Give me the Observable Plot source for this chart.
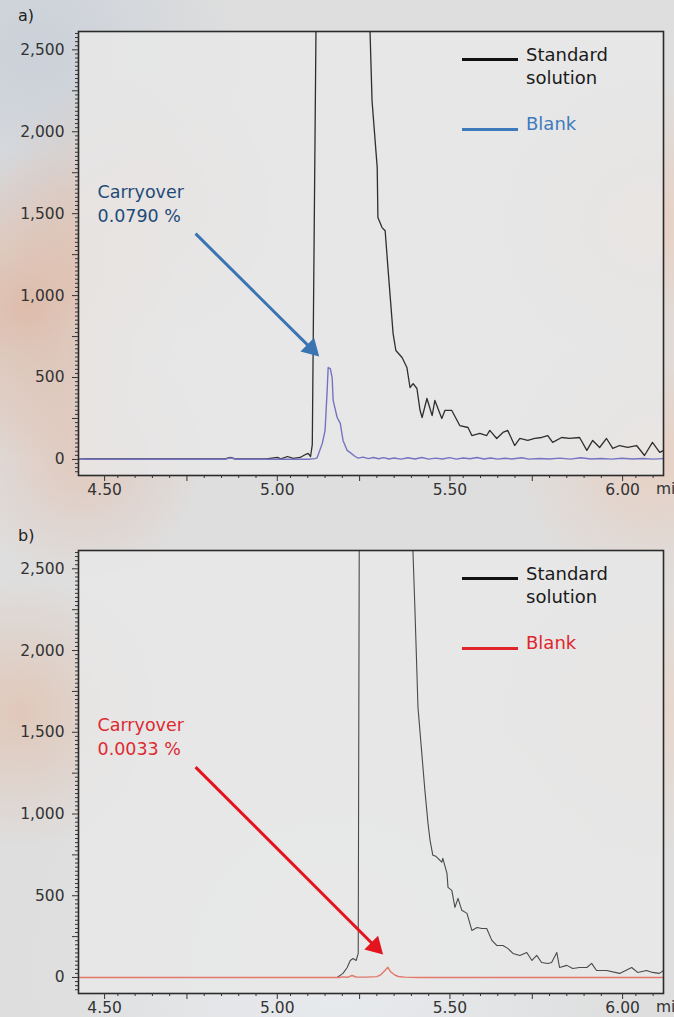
<!DOCTYPE html>
<html><head><meta charset="utf-8">
<script src="https://cdn.jsdelivr.net/npm/d3@7"></script>
<script src="https://cdn.jsdelivr.net/npm/@observablehq/plot@0.6"></script>
<style>
html,body{margin:0;padding:0;width:674px;height:1017px;overflow:hidden;}
body{font-family:"DejaVu Sans",sans-serif;color:#2a2a2a;
background:
 radial-gradient(circle at 4% 30%, rgba(222,160,128,0.55), rgba(222,160,128,0) 16%),
 radial-gradient(circle at 20% 20%, rgba(232,178,150,0.45), rgba(232,178,150,0) 14%),
 radial-gradient(circle at 12% 45%, rgba(228,176,150,0.45), rgba(228,176,150,0) 15%),
 radial-gradient(circle at 96% 22%, rgba(238,196,172,0.55), rgba(238,196,172,0) 14%),
 radial-gradient(circle at 97% 45%, rgba(238,196,172,0.55), rgba(238,196,172,0) 16%),
 radial-gradient(circle at 3% 70%, rgba(226,178,150,0.5), rgba(226,178,150,0) 14%),
 radial-gradient(circle at 96% 70%, rgba(240,206,184,0.5), rgba(240,206,184,0) 15%),
 radial-gradient(circle at 50% 95%, rgba(236,240,246,0.7), rgba(236,240,246,0) 30%),
 radial-gradient(circle at 5% 5%, rgba(190,200,214,0.6), rgba(190,200,214,0) 18%),
 #dedede;}
.panel{position:relative;width:674px;}
.tag{position:absolute;left:18px;font-size:16px;line-height:22px;color:#222;}
.lg-line{position:absolute;left:462px;width:56px;height:2.5px;}
.lg-text{position:absolute;left:526px;font-size:18px;line-height:23px;}
.unit{position:absolute;left:656px;font-size:15.5px;color:#333;white-space:nowrap;}
</style></head><body>
<div id="a" class="panel"></div>
<div id="b" class="panel"></div>
<script>
// ---------- data (retention time [min], signal) ----------
const standardA = [[4.436,3],[4.86,3],[4.876,12],[4.89,3],[4.98,4],[5.012,12],[5.022,4],[5.041,18],[5.058,6],[5.078,12],[5.093,30],[5.101,37],[5.108,18],[5.113,90],[5.124,2700],[5.20,20000],[5.279,2700],[5.286,2189],[5.301,1781],[5.303,1476],[5.315,1415],[5.324,1396],[5.332,1171],[5.347,768],[5.355,665],[5.373,622],[5.387,561],[5.396,439],[5.405,463],[5.416,433],[5.425,300],[5.431,256],[5.445,372],[5.460,268],[5.468,360],[5.488,250],[5.497,299],[5.517,299],[5.540,207],[5.564,195],[5.575,146],[5.598,159],[5.618,146],[5.627,177],[5.647,128],[5.665,165],[5.679,177],[5.699,85],[5.714,128],[5.737,116],[5.757,128],[5.777,134],[5.795,146],[5.809,104],[5.835,134],[5.858,128],[5.887,134],[5.908,55],[5.925,116],[5.945,73],[5.965,128],[5.983,67],[6.003,85],[6.026,73],[6.052,85],[6.075,24],[6.098,104],[6.119,43],[6.13,55]];
const blankA = [[4.436,4],[4.46,1],[4.86,1],[4.876,10],[4.892,1],[5.10,1],[5.121,5],[5.127,10],[5.142,98],[5.150,177],[5.156,420],[5.159,561],[5.165,555],[5.1705,500],[5.1734,360],[5.185,256],[5.194,220],[5.202,116],[5.214,55],[5.222,43],[5.237,18],[5.246,8],[5.26,14],[5.275,5],[5.29,12],[5.305,4],[5.32,11],[5.335,3],[5.35,9],[5.37,2],[5.39,10],[5.41,3],[5.43,12],[5.45,2],[5.47,8],[5.49,3],[5.51,11],[5.53,2],[5.55,9],[5.57,4],[5.59,12],[5.61,3],[5.63,9],[5.65,2],[5.67,7],[5.69,3],[5.72,10],[5.74,2],[5.77,6],[5.80,3],[5.83,8],[5.86,2],[5.89,10],[5.92,3],[5.95,6],[5.98,2],[6.01,7],[6.04,3],[6.07,6],[6.10,2],[6.13,5]];
const standardB = [[4.436,0],[5.18,0],[5.185,0],[5.202,25],[5.214,61],[5.223,104],[5.231,116],[5.240,104],[5.246,147],[5.249,2700],[5.33,20000],[5.403,2700],[5.410,2267],[5.416,1862],[5.419,1654],[5.431,1348],[5.439,1146],[5.448,944],[5.454,839],[5.462,748],[5.471,741],[5.477,729],[5.488,705],[5.491,729],[5.503,637],[5.506,551],[5.517,533],[5.526,429],[5.535,484],[5.546,411],[5.561,392],[5.575,288],[5.590,306],[5.604,300],[5.618,300],[5.633,227],[5.647,196],[5.665,196],[5.679,178],[5.694,147],[5.714,135],[5.734,153],[5.749,104],[5.763,135],[5.777,92],[5.795,86],[5.806,92],[5.821,153],[5.829,61],[5.850,74],[5.867,55],[5.887,61],[5.908,61],[5.922,86],[5.936,43],[5.965,43],[6.003,25],[6.038,61],[6.055,31],[6.081,43],[6.098,31],[6.118,25],[6.13,43]];
const blankB = [[4.436,0],[5.19,0],[5.20,4],[5.215,1],[5.228,12],[5.24,3],[5.27,2],[5.30,5],[5.312,18],[5.322,40],[5.332,62],[5.340,35],[5.350,18],[5.362,6],[5.38,2],[5.42,0],[6.13,0]];

const seriesNames = ["Standard solution", "Blank"];
const panelTags = ["a)", "b)"];
const carryoverText = ["Carryover\n0.0790 %", "Carryover\n0.0033 %"];
// annotation anchor (text top-left) and arrow start/end, in data units
const noteA = {tx: 4.491, ty: 1700, x1: 4.775, y1: 1378, x2: 5.133, y2: 628};
const noteB = {tx: 4.491, ty: 1610, x1: 4.775, y1: 1287, x2: 5.318, y2: 141};

const xLabeled = [4.5, 5.0, 5.5, 6.0];
const xMedium = [4.75, 5.25, 5.75];
const yLabeled = [0, 500, 1000, 1500, 2000, 2500];
const yMedium = [250, 750, 1250, 1750, 2250];
const xMinor = d3.range(90, 123).map(i => i * 0.05).filter(v => v > 4.436 && v < 6.13 && Math.abs((v * 4) - Math.round(v * 4)) > 1e-6);
const yMinor = d3.range(-3, 105).map(i => i * 25).filter(v => v % 250 !== 0 && v > -98 && v < 2612);

// ---------- drawing ----------
const W = 674, ML = 78, MR = 11;
const xDomain = [4.436, 6.13], yDomain = [-98, 2612];
const toObj = arr => arr.map(([t, v]) => ({t, v}));

function drawPanel(el, cfg) {
  const plotH = cfg.height - cfg.mt - cfg.mb;
  const kx = (W - ML - MR) / (xDomain[1] - xDomain[0]);
  const ky = plotH / (yDomain[1] - yDomain[0]);
  const n = cfg.note;
  const dxp = (n.x2 - n.x1) * kx, dyp = -(n.y2 - n.y1) * ky;
  const len = Math.hypot(dxp, dyp), ux = dxp / len, uy = dyp / len;
  const r = 7.2, a = r * Math.sqrt(Math.PI / (3 * Math.sqrt(3)));
  const rot = Math.atan2(ux, -uy) * 180 / Math.PI;
  const shaft = {x1: n.x1, y1: n.y1, x2: n.x2 - ux * 2 * a / kx, y2: n.y2 + uy * 2 * a / ky};
  const txt = [{x: n.tx, y: n.ty, label: cfg.text}];

  const svg = Plot.plot({
    width: W, height: cfg.height,
    marginLeft: ML, marginRight: MR, marginTop: cfg.mt, marginBottom: cfg.mb,
    style: {background: "transparent", fontFamily: "'DejaVu Sans', sans-serif", fontSize: "15.5px", color: "#333", overflow: "visible"},
    x: {domain: xDomain, label: null},
    y: {domain: yDomain, label: null},
    marks: [
      Plot.frame({fill: "rgba(232,232,232,0.86)", stroke: null}),
      Plot.line(toObj(cfg.std), {x: "t", y: "v", stroke: cfg.stdColor, strokeWidth: cfg.stdWidth, clip: true}),
      Plot.line(toObj(cfg.blank), {x: "t", y: "v", stroke: cfg.blankColor, strokeWidth: 1.4, clip: true}),
      Plot.link([shaft], {x1: "x1", y1: "y1", x2: "x2", y2: "y2", stroke: cfg.arrowColor, strokeWidth: 3}),
      Plot.dot([n], {x: "x2", y: "y2", dx: -ux * 2 * a, dy: -uy * 2 * a, symbol: "triangle", r, fill: cfg.arrowColor, stroke: null, rotate: rot}),
      Plot.text(txt, {x: "x", y: "y", text: "label", textAnchor: "start", lineAnchor: "top", fill: cfg.noteColor, fontSize: 17.5, lineHeight: 1.37}),
      Plot.frame({stroke: "#2b2b2b", strokeWidth: 1.6}),
      Plot.axisX(xLabeled, {tickSize: 6, tickPadding: 2, dx: 4, tickFormat: d3.format(".2f"), label: null}),
      Plot.axisX(xMedium, {tickSize: 6, tickFormat: () => "", label: null}),
      Plot.axisX(xMinor, {tickSize: 3, tickFormat: () => "", label: null}),
      Plot.axisY(yLabeled, {tickSize: 6, tickPadding: 8, tickFormat: d3.format(","), label: null}),
      Plot.axisY(yMedium, {tickSize: 6, tickFormat: () => "", label: null}),
      Plot.axisY(yMinor, {tickSize: 3, tickFormat: () => "", label: null})
    ]
  });
  el.style.height = cfg.height + "px";
  el.appendChild(svg);

  const add = (cls, css, html) => { const d = document.createElement("div"); d.className = cls; d.style.cssText = css; if (html) d.innerHTML = html; el.appendChild(d); };
  add("tag", "top:" + cfg.tagTop + "px;", cfg.tag);
  add("lg-line", "top:58px;background:#111;");
  add("lg-text", "top:43px;color:#1a1a1a;", seriesNames[0].replace(" ", "<br>"));
  add("lg-line", "top:128px;background:" + cfg.legendColor + ";");
  add("lg-text", "top:112px;color:" + cfg.legendColor + ";", seriesNames[1]);
  add("unit", "top:" + (cfg.height - cfg.mb + 5) + "px;", "min");
}

drawPanel(document.getElementById("a"), {
  height: 519, mt: 31, mb: 44, std: standardA, blank: blankA,
  stdColor: "#2f2f2f", stdWidth: 1.3, blankColor: "#7573c2",
  note: noteA, text: carryoverText[0], arrowColor: "#3a74b3", noteColor: "#1f4b78",
  legendColor: "#3d7bbd", tag: panelTags[0], tagTop: 5
});
drawPanel(document.getElementById("b"), {
  height: 498, mt: 31, mb: 24, std: standardB, blank: blankB,
  stdColor: "#4a4a4a", stdWidth: 1.1, blankColor: "#e2786a",
  note: noteB, text: carryoverText[1], arrowColor: "#e3141e", noteColor: "#dd2a31",
  legendColor: "#e0252c", tag: panelTags[1], tagTop: 6
});
</script>
</body></html>
